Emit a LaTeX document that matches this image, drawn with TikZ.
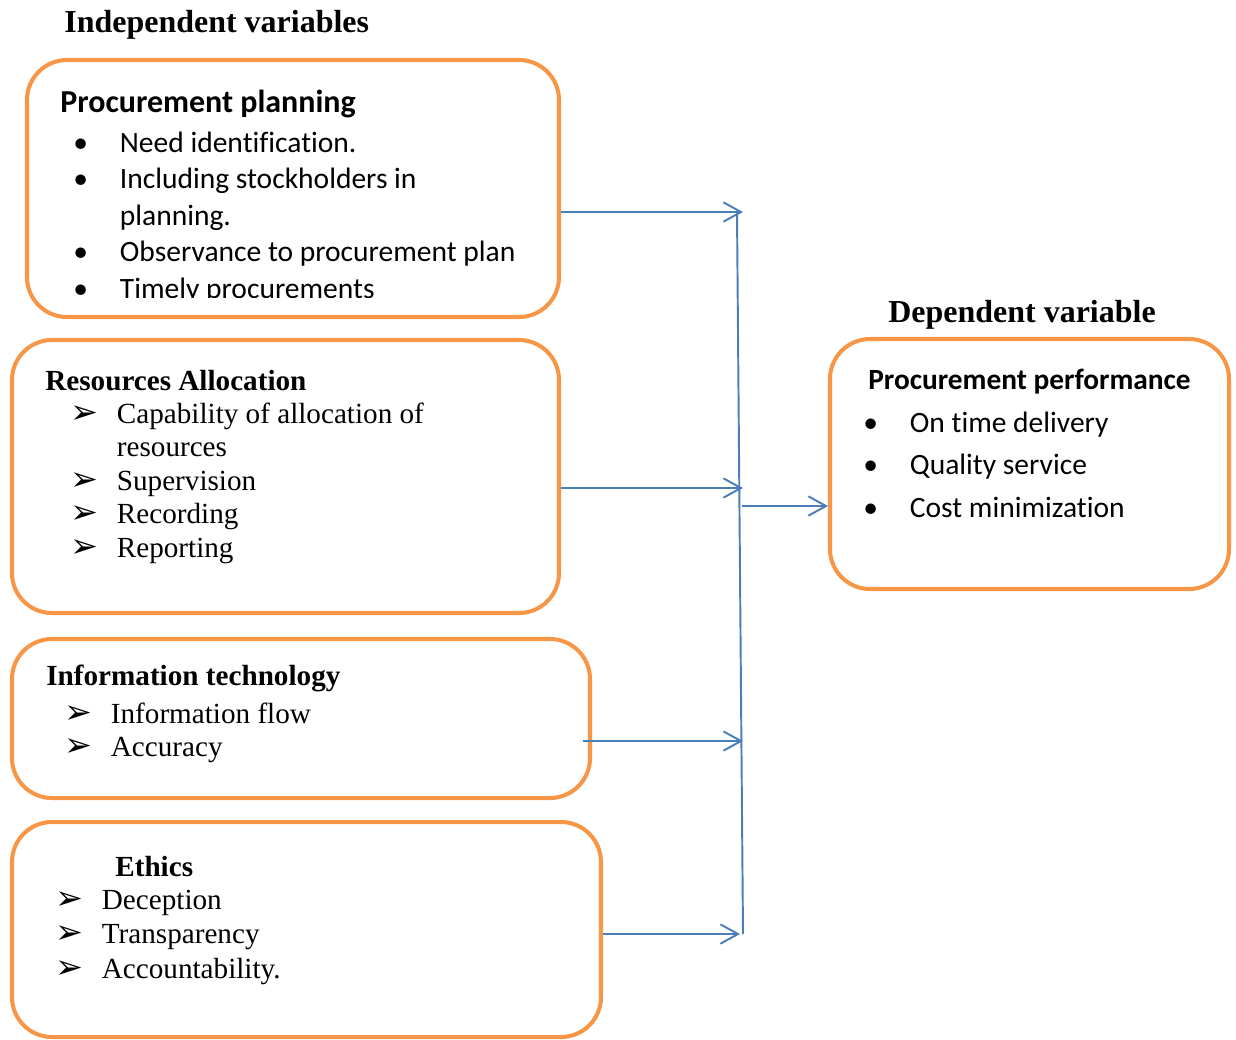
\documentclass[tikz,border=0pt]{standalone}
\usepackage{fontspec}
\setmainfont{Liberation Serif}
\newfontfamily\calibrifont[Ligatures=NoCommon]{Carlito}
\newfontfamily\symbfont{DejaVu Sans}
\usetikzlibrary{positioning, arrows.meta, fit}

\definecolor{boxorange}{HTML}{F79646}
\definecolor{linkblue}{HTML}{4A7EBB}

\newcommand{\pointer}{{\symbfont\fontsize{19}{19}\selectfont ➢}}

\begin{document}
\begin{tikzpicture}[
		% one unit = one pixel of the reference
		x=0.02cm, y=-0.02cm,
		box/.style={
			rectangle,
			draw=boxorange,
			line width=2.3pt,
			rounded corners=0.8cm,
			inner sep=0pt
		},
		heading/.style={font=\fontsize{18.2}{22}\selectfont\bfseries, anchor=base west, inner sep=0pt},
		title/.style={font=\fontsize{16.6}{20}\selectfont\bfseries, anchor=base west, inner sep=0pt},
		caltitle/.style={font=\fontsize{16.7}{20}\selectfont\calibrifont\bfseries, anchor=base west, inner sep=0pt},
		items/.style={font=\fontsize{16.6}{#1}\selectfont, anchor=base west, inner sep=0pt},
		calitems/.style={font=\fontsize{16.8}{#1}\selectfont\calibrifont, anchor=base west, inner sep=0pt},
		arrow/.style={-{Straight Barb[length=10pt, width=11pt]}, draw=linkblue, line width=1.1pt},
		bus/.style={draw=linkblue, line width=1.1pt}
		]
		
		\useasboundingbox (0,0) rectangle (1236,1039);
		
		% --- Headings ---
		\node[heading] (indep) at (64,32) {Independent variables};
		\node[heading] (dep) at (888,322) {Dependent variable};
		
		% --- Boxes ---
		\node[box, fit={(27,60) (559,317)}] (plan) {};
		\node[box, fit={(12,340) (559,613)}] (res) {};
		\node[box, fit={(12,639) (590,798)}] (it) {};
		\node[box, fit={(12,822) (601,1037)}] (ethics) {};
		\node[box, fit={(830,339) (1229,589)}] (perf) {};
		
		% --- Procurement planning (last line cut by the box) ---
		\node[caltitle, font=\fontsize{18.2}{22}\selectfont\calibrifont\bfseries] (plantitle) at (60,112) {Procurement planning};
		\begin{scope}
			\clip (25,60) rectangle (561,297);
			\node[calitems=20.8] (planlist) at (73,152) {\begin{tabular}[t]{@{}p{26.5pt}@{}l@{}}
					• & Need identification.\\
					• & Including stockholders in\\
					& planning.\\
					• & Observance to procurement plan\\
					• & Timely procurements
			\end{tabular}};
		\end{scope}
		
		% --- Resources Allocation ---
		\node[title] (restitle) at (45,390) {Resources Allocation};
		\node[items=19.1] (reslist) at (70,423) {\begin{tabular}[t]{@{}p{26.5pt}@{}l@{}}
				\pointer & Capability of allocation of\\
				& resources\\
				\pointer & Supervision\\
				\pointer & Recording\\
				\pointer & Reporting
		\end{tabular}};
		
		% --- Information technology ---
		\node[title] (ittitle) at (46,685) {Information technology};
		\node[items=19.3] (itlist) at (64,723) {\begin{tabular}[t]{@{}p{26.5pt}@{}l@{}}
				\pointer & Information flow\\
				\pointer & Accuracy
		\end{tabular}};
		
		% --- Ethics ---
		\node[title] (ethtitle) at (115,876) {Ethics};
		\node[items=19.9] (ethlist) at (55,909) {\begin{tabular}[t]{@{}p{26.5pt}@{}l@{}}
				\pointer & Deception\\
				\pointer & Transparency\\
				\pointer & Accountability.
		\end{tabular}};
		
		% --- Procurement performance ---
		\node[caltitle] (perftitle) at (868,389) {Procurement performance};
		\node[calitems=24.4] (perflist) at (863,432) {\begin{tabular}[t]{@{}p{26.5pt}@{}l@{}}
				• & On time delivery\\
				• & Quality service\\
				• & Cost minimization
		\end{tabular}};
		
		% --- Connectors ---
		\coordinate (bustop) at (737,213);
		\coordinate (busbot) at (743,934);
		\coordinate (in1) at (743,212);
		\coordinate (in2) at (743,488);
		\coordinate (in3) at (743,741);
		\coordinate (in4) at (740,934);
		\coordinate (out) at (742,506);
		
		\draw[bus] (bustop) -- (busbot);
		\draw[arrow] (plan.east |- in1) -- (in1);
		\draw[arrow] (res.east |- in2) -- (in2);
		\draw[arrow] ([xshift=-0.18cm]it.east |- in3) -- (in3);
		\draw[arrow] (ethics.east |- in4) -- (in4);
		\draw[arrow] (out) -- (perf.west |- out);
		
	\end{tikzpicture}
\end{document}
